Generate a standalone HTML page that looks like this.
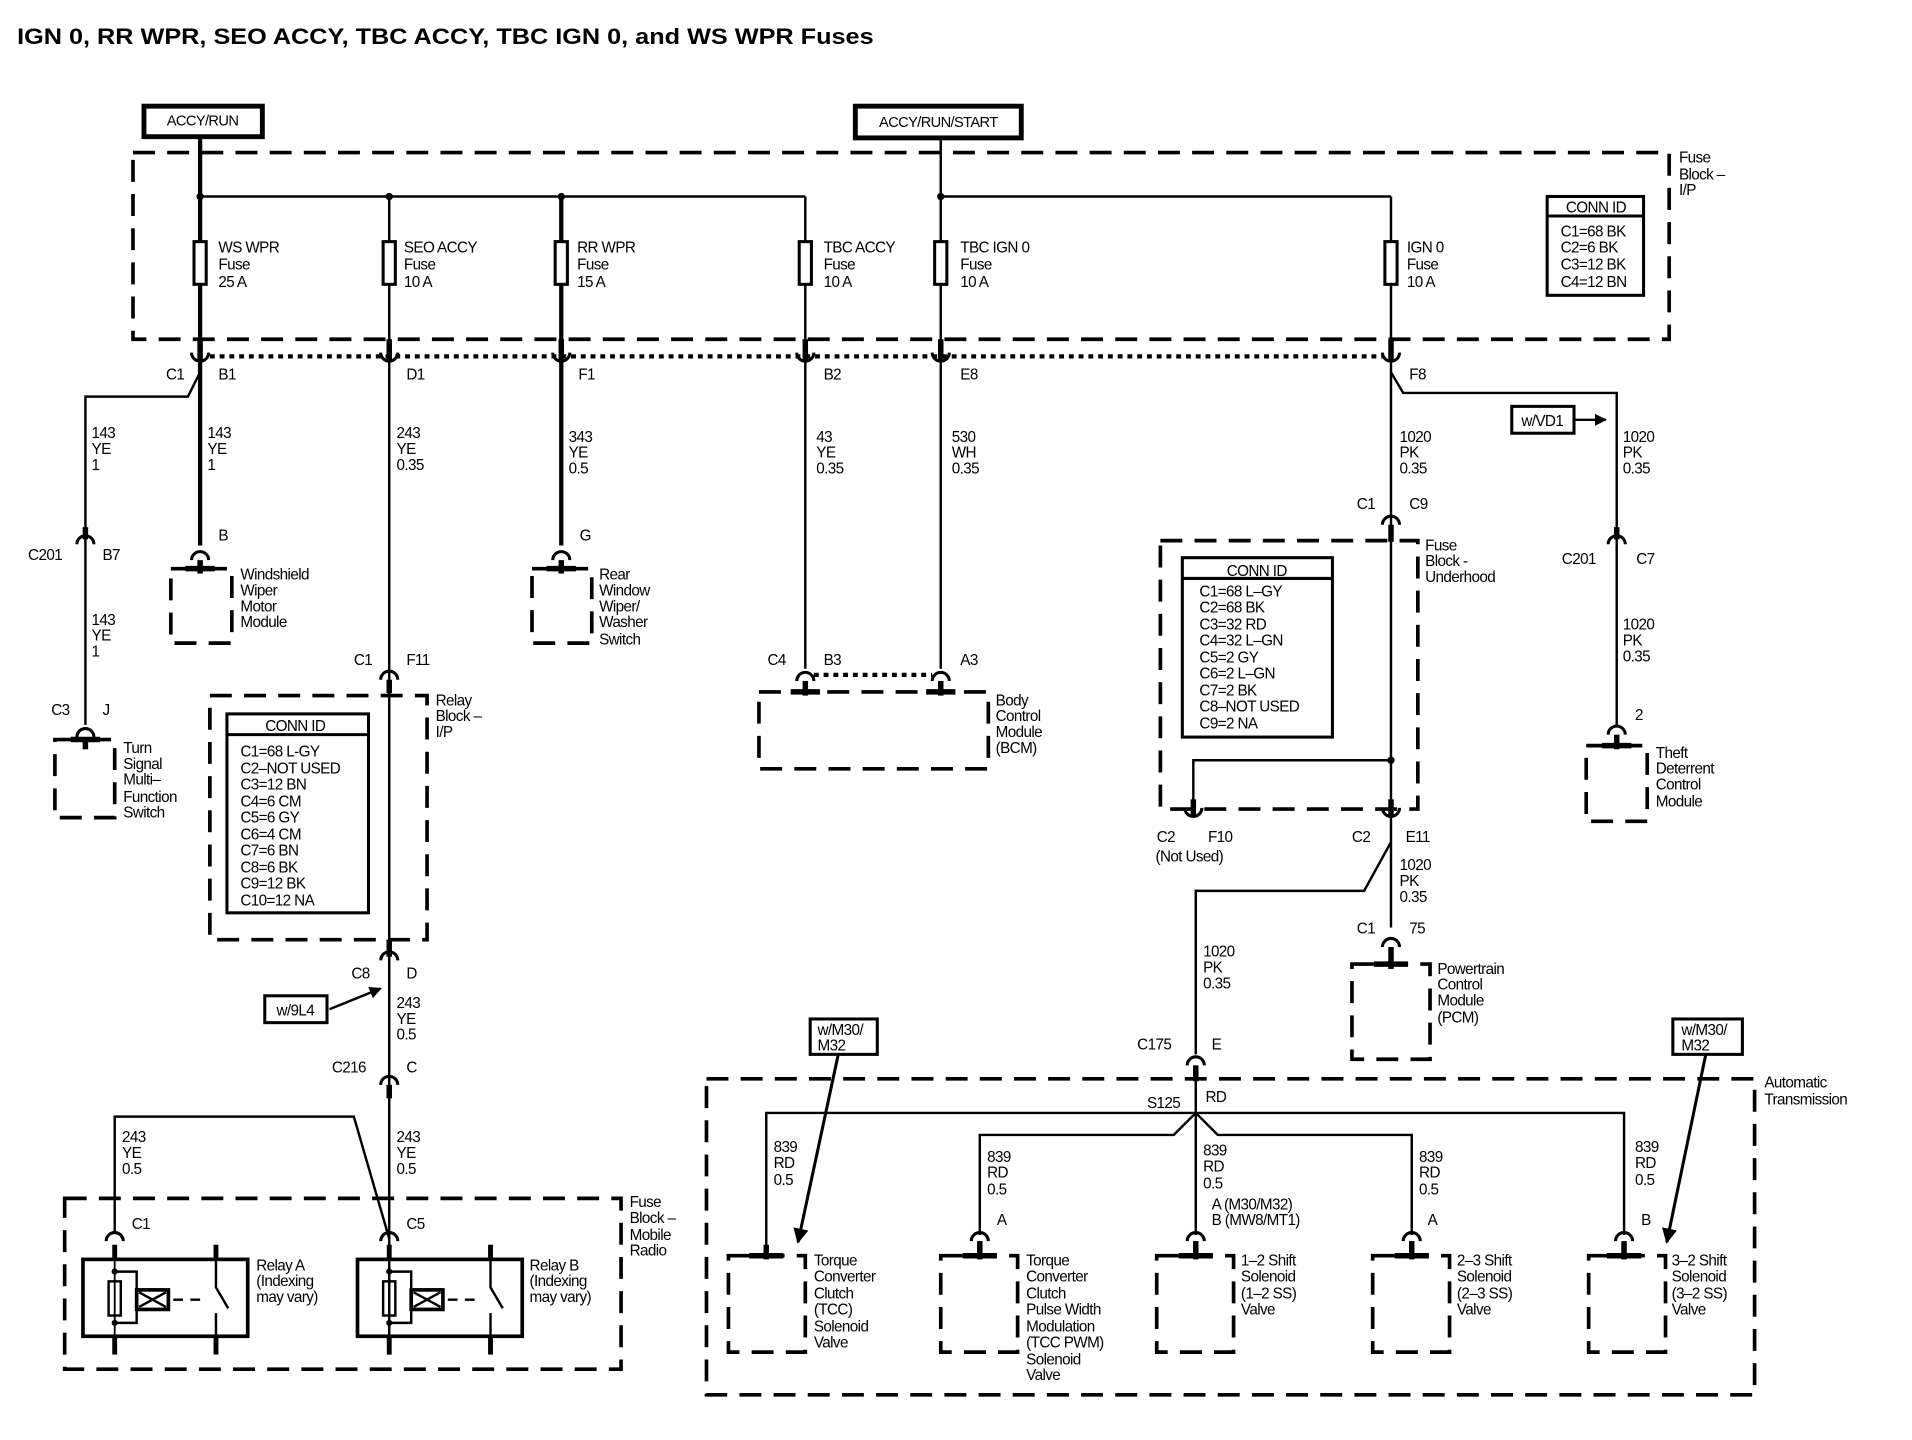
<!DOCTYPE html>
<html><head><meta charset="utf-8"><style>
html,body{margin:0;padding:0;background:#fff}
svg{display:block}
text{font-family:"Liberation Sans",sans-serif;font-size:12.5px;fill:#000;letter-spacing:-0.5px}
.b{font-weight:bold}
</style></head><body>
<svg width="1912" height="1440" viewBox="0 0 1567 1180" preserveAspectRatio="none" xmlns="http://www.w3.org/2000/svg">
<defs>
<marker id="ar" viewBox="0 0 10 10" refX="9" refY="5" markerWidth="5" markerHeight="5" orient="auto"><path d="M0 0L10 5L0 10z"/></marker>
</defs>
<rect width="1567" height="1180" fill="#fff"/>
<text x="14" y="36" class="b" style="font-size:18px;letter-spacing:0" textLength="702" lengthAdjust="spacingAndGlyphs">IGN 0, RR WPR, SEO ACCY, TBC ACCY, TBC IGN 0, and WS WPR Fuses</text>

<g fill="none" stroke="#000">
<rect x="118" y="87" width="97" height="25" stroke-width="4"/>
<rect x="701" y="87" width="136" height="26" stroke-width="4"/>
<g stroke-width="3" stroke-dasharray="18 10">
<rect x="109" y="125" width="1259" height="153"/>
<rect x="172" y="570" width="178" height="200"/>
<rect x="951" y="443" width="211" height="220"/>
<rect x="53" y="982" width="456" height="140"/>
<rect x="579" y="884" width="859" height="259"/>
<rect x="45" y="606" width="49" height="64"/>
<rect x="140" y="466" width="50" height="61"/>
<rect x="436" y="466" width="49" height="61"/>
<rect x="622" y="567" width="188" height="63"/>
<rect x="1300" y="611" width="50" height="62"/>
<rect x="1108" y="790" width="64" height="78"/>
<rect x="597" y="1029" width="63" height="79"/>
<rect x="771" y="1029" width="63" height="79"/>
<rect x="948" y="1029" width="63" height="79"/>
<rect x="1125" y="1029" width="63" height="79"/>
<rect x="1302" y="1029" width="63" height="79"/>
</g>
<g stroke-width="3.5" stroke-dasharray="4 4">
<line x1="172" y1="292" x2="1133" y2="292"/>
<line x1="667" y1="553" x2="764" y2="553"/>
</g>
<rect x="1268" y="161" width="79" height="81" stroke-width="2.5"/>
<line x1="1268" y1="177" x2="1347" y2="177" stroke-width="2.5"/>
<rect x="186" y="585" width="116" height="163" stroke-width="2.5"/>
<line x1="186" y1="602" x2="302" y2="602" stroke-width="2.5"/>
<rect x="969" y="457" width="123" height="147" stroke-width="2.5"/>
<line x1="969" y1="474" x2="1092" y2="474" stroke-width="2.5"/>

<g stroke-width="2">
<line x1="164" y1="161" x2="660" y2="161"/>
<line x1="771" y1="161" x2="1140" y2="161"/>
<line x1="319" y1="161" x2="319" y2="1110"/>
<line x1="660" y1="161" x2="660" y2="548"/>
<line x1="771" y1="113" x2="771" y2="548"/>
<line x1="1140" y1="161" x2="1140" y2="760"/>
<polyline points="164,305 154,325 70,325 70,440"/>
<line x1="70" y1="440" x2="70" y2="594"/>
<polyline points="1140,305 1150,322 1325,322 1325,594"/>
<polyline points="1140,623 978,623 978,665"/>
<polyline points="1140,690 1118,730 980,730 980,864"/>
<polyline points="94,1010 94,915 290,915 319,1015"/>
<line x1="980" y1="885" x2="980" y2="1012"/>
<polyline points="628,1026 628,912 1331,912 1331,1012"/>
<polyline points="803,1012 803,930 962,930 980,912 998,930 1157,930 1157,1012"/>
<line x1="270" y1="827" x2="312" y2="810" marker-end="url(#ar)" stroke-width="2"/>
<line x1="1290" y1="344" x2="1316" y2="344" marker-end="url(#ar)" stroke-width="2"/>
<line x1="687" y1="864" x2="654" y2="1018" marker-end="url(#ar)" stroke-width="2.5"/>
<line x1="1398" y1="864" x2="1366" y2="1018" marker-end="url(#ar)" stroke-width="2.5"/>
</g>
<g stroke-width="3.5">
<line x1="164" y1="112" x2="164" y2="447"/>
<line x1="460" y1="161" x2="460" y2="447"/>
</g>
<g stroke-width="2.5" fill="#fff">
<rect x="159" y="198" width="10" height="35"/>
<rect x="314" y="198" width="10" height="35"/>
<rect x="455" y="198" width="10" height="35"/>
<rect x="655" y="198" width="10" height="35"/>
<rect x="766" y="198" width="10" height="35"/>
<rect x="1135" y="198" width="10" height="35"/>
</g>
<g fill="#000" stroke="none">
<circle cx="164" cy="161" r="3"/><circle cx="319" cy="161" r="3"/><circle cx="460" cy="161" r="3"/><circle cx="771" cy="161" r="3"/><circle cx="1140" cy="623" r="3"/>
</g>
<g stroke-width="2.5">
<path d="M157 289 A7 7 0 0 0 171 289"/><path d="M312 289 A7 7 0 0 0 326 289"/><path d="M453 289 A7 7 0 0 0 467 289"/>
<path d="M653 289 A7 7 0 0 0 667 289"/><path d="M764 289 A7 7 0 0 0 778 289"/><path d="M1133 289 A7 7 0 0 0 1147 289"/>
<path d="M971 662 A7 7 0 0 0 985 662"/><path d="M1133 662 A7 7 0 0 0 1147 662"/>
<path d="M63 446 A7 7 0 0 1 77 446"/><path d="M63 604 A7 7 0 0 1 77 604"/>
<path d="M157 459 A7 7 0 0 1 171 459"/><path d="M453 459 A7 7 0 0 1 467 459"/>
<path d="M312 557 A7 7 0 0 1 326 557"/><path d="M653 558 A7 7 0 0 1 667 558"/><path d="M764 558 A7 7 0 0 1 778 558"/>
<path d="M312 787 A7 7 0 0 1 326 787"/><path d="M312 889 A7 7 0 0 1 326 889"/>
<path d="M87 1017 A7 7 0 0 1 101 1017"/><path d="M312 1017 A7 7 0 0 1 326 1017"/>
<path d="M1133 430 A7 7 0 0 1 1147 430"/><path d="M1318 446 A7 7 0 0 1 1332 446"/><path d="M1318 602 A7 7 0 0 1 1332 602"/>
<path d="M1133 776 A7 7 0 0 1 1147 776"/><path d="M973 873 A7 7 0 0 1 987 873"/>
<path d="M796 1017 A7 7 0 0 1 810 1017"/><path d="M973 1017 A7 7 0 0 1 987 1017"/><path d="M1150 1017 A7 7 0 0 1 1164 1017"/><path d="M1324 1017 A7 7 0 0 1 1338 1017"/>
</g>
<g stroke-width="4.5">
<line x1="164" y1="278" x2="164" y2="296"/><line x1="319" y1="278" x2="319" y2="296"/><line x1="460" y1="278" x2="460" y2="296"/>
<line x1="660" y1="278" x2="660" y2="296"/><line x1="771" y1="278" x2="771" y2="296"/><line x1="1140" y1="278" x2="1140" y2="296"/>
<line x1="978" y1="655" x2="978" y2="668"/><line x1="1140" y1="655" x2="1140" y2="668"/>
<line x1="70" y1="432" x2="70" y2="442"/>
<line x1="319" y1="557" x2="319" y2="568"/><line x1="319" y1="770" x2="319" y2="784"/><line x1="319" y1="889" x2="319" y2="900"/>
<line x1="1140" y1="430" x2="1140" y2="444"/><line x1="1325" y1="432" x2="1325" y2="442"/>
<line x1="980" y1="873" x2="980" y2="886"/>
<line x1="70" y1="604" x2="70" y2="614"/><line x1="58" y1="606" x2="82" y2="606"/>
<line x1="164" y1="459" x2="164" y2="470"/><line x1="152" y1="466" x2="176" y2="466"/>
<line x1="460" y1="459" x2="460" y2="470"/><line x1="448" y1="466" x2="472" y2="466"/>
<line x1="660" y1="558" x2="660" y2="570"/><line x1="648" y1="567" x2="672" y2="567"/>
<line x1="771" y1="558" x2="771" y2="570"/><line x1="759" y1="567" x2="783" y2="567"/>
<line x1="1325" y1="602" x2="1325" y2="614"/><line x1="1313" y1="611" x2="1337" y2="611"/>
<line x1="1140" y1="776" x2="1140" y2="794"/><line x1="1126" y1="790" x2="1154" y2="790"/>
<line x1="628" y1="1020" x2="628" y2="1032"/><line x1="614" y1="1029" x2="642" y2="1029"/>
<line x1="803" y1="1017" x2="803" y2="1032"/><line x1="789" y1="1029" x2="817" y2="1029"/>
<line x1="980" y1="1017" x2="980" y2="1032"/><line x1="966" y1="1029" x2="994" y2="1029"/>
<line x1="1157" y1="1017" x2="1157" y2="1032"/><line x1="1143" y1="1029" x2="1171" y2="1029"/>
<line x1="1331" y1="1017" x2="1331" y2="1032"/><line x1="1317" y1="1029" x2="1345" y2="1029"/>
</g>
<rect x="217" y="816" width="51" height="22" stroke-width="2.5"/>
<rect x="1239" y="333" width="51" height="22" stroke-width="2.5"/>
<rect x="664" y="835" width="55" height="29" stroke-width="2.5"/>
<rect x="1371" y="835" width="57" height="29" stroke-width="2.5"/>
<g id="relay">
<rect x="68" y="1032" width="135" height="63" stroke-width="3"/>
<line x1="94" y1="1020" x2="94" y2="1032" stroke-width="4"/><line x1="94" y1="1095" x2="94" y2="1110" stroke-width="4"/>
<line x1="94" y1="1032" x2="94" y2="1095" stroke-width="1.5"/>
<rect x="89" y="1050" width="10" height="28" stroke-width="2"/>
<polyline points="94,1042 112,1042 112,1084 94,1084" stroke-width="2"/>
<rect x="112" y="1057" width="26" height="16" stroke-width="3" fill="#fff"/>
<path d="M114 1059L136 1071M136 1059L114 1071" stroke-width="2"/>
<line x1="142" y1="1065" x2="168" y2="1065" stroke-width="2" stroke-dasharray="8 6"/>
<line x1="177" y1="1020" x2="177" y2="1032" stroke-width="4"/><line x1="177" y1="1095" x2="177" y2="1110" stroke-width="4"/>
<polyline points="177,1032 177,1055 187,1072" stroke-width="2"/>
<line x1="177" y1="1076" x2="177" y2="1095" stroke-width="2"/>
</g>
<use href="#relay" transform="translate(225,0)"/>
</g>
<g fill="#000" stroke="none"><circle cx="94" cy="1042" r="2.5"/><circle cx="94" cy="1084" r="2.5"/><circle cx="319" cy="1042" r="2.5"/><circle cx="319" cy="1084" r="2.5"/></g>

<text x="166" y="103" text-anchor="middle" style="font-size:12px">ACCY/RUN</text>
<text x="769" y="104" text-anchor="middle" style="font-size:12px">ACCY/RUN/START</text>
<text x="1376" y="133">Fuse</text><text x="1376" y="147">Block –</text><text x="1376" y="160">I/P</text>
<text x="1308" y="174" text-anchor="middle">CONN ID</text>
<text x="1279" y="194">C1=68 BK</text><text x="1279" y="207">C2=6 BK</text><text x="1279" y="221">C3=12 BK</text><text x="1279" y="235">C4=12 BN</text>
<g>
<text x="179" y="207">WS WPR</text><text x="179" y="221">Fuse</text><text x="179" y="235">25 A</text>
<text x="331" y="207">SEO ACCY</text><text x="331" y="221">Fuse</text><text x="331" y="235">10 A</text>
<text x="473" y="207">RR WPR</text><text x="473" y="221">Fuse</text><text x="473" y="235">15 A</text>
<text x="675" y="207">TBC ACCY</text><text x="675" y="221">Fuse</text><text x="675" y="235">10 A</text>
<text x="787" y="207">TBC IGN 0</text><text x="787" y="221">Fuse</text><text x="787" y="235">10 A</text>
<text x="1153" y="207">IGN 0</text><text x="1153" y="221">Fuse</text><text x="1153" y="235">10 A</text>
</g>
<text x="136" y="311">C1</text><text x="179" y="311">B1</text><text x="333" y="311">D1</text><text x="474" y="311">F1</text>
<text x="675" y="311">B2</text><text x="787" y="311">E8</text><text x="1155" y="311">F8</text>
<text x="75" y="359">143</text><text x="75" y="372">YE</text><text x="75" y="385">1</text>
<text x="170" y="359">143</text><text x="170" y="372">YE</text><text x="170" y="385">1</text>
<text x="325" y="359">243</text><text x="325" y="372">YE</text><text x="325" y="385">0.35</text>
<text x="466" y="362">343</text><text x="466" y="375">YE</text><text x="466" y="388">0.5</text>
<text x="669" y="362">43</text><text x="669" y="375">YE</text><text x="669" y="388">0.35</text>
<text x="780" y="362">530</text><text x="780" y="375">WH</text><text x="780" y="388">0.35</text>
<text x="1147" y="362">1020</text><text x="1147" y="375">PK</text><text x="1147" y="388">0.35</text>
<text x="1330" y="362">1020</text><text x="1330" y="375">PK</text><text x="1330" y="388">0.35</text>
<text x="1264" y="349" text-anchor="middle">w/VD1</text>
<text x="1112" y="417">C1</text><text x="1155" y="417">C9</text>
<text x="23" y="459">C201</text><text x="84" y="459">B7</text>
<text x="1280" y="462">C201</text><text x="1341" y="462">C7</text>
<text x="179" y="443">B</text><text x="475" y="443">G</text>
<text x="197" y="475">Windshield</text><text x="197" y="488">Wiper</text><text x="197" y="501">Motor</text><text x="197" y="514">Module</text>
<text x="491" y="475">Rear</text><text x="491" y="488">Window</text><text x="491" y="501">Wiper/</text><text x="491" y="514">Washer</text><text x="491" y="528">Switch</text>
<text x="75" y="512">143</text><text x="75" y="525">YE</text><text x="75" y="538">1</text>
<text x="42" y="586">C3</text><text x="84" y="586">J</text>
<text x="101" y="617">Turn</text><text x="101" y="630">Signal</text><text x="101" y="643">Multi–</text><text x="101" y="657">Function</text><text x="101" y="670">Switch</text>
<text x="290" y="545">C1</text><text x="333" y="545">F11</text>
<text x="357" y="578">Relay</text><text x="357" y="591">Block –</text><text x="357" y="604">I/P</text>
<text x="242" y="599" text-anchor="middle">CONN ID</text>
<text x="197" y="620">C1=68 L-GY</text><text x="197" y="634">C2–NOT USED</text><text x="197" y="647">C3=12 BN</text><text x="197" y="661">C4=6 CM</text><text x="197" y="674">C5=6 GY</text><text x="197" y="688">C6=4 CM</text><text x="197" y="701">C7=6 BN</text><text x="197" y="715">C8=6 BK</text><text x="197" y="728">C9=12 BK</text><text x="197" y="742">C10=12 NA</text>
<text x="629" y="545">C4</text><text x="675" y="545">B3</text><text x="787" y="545">A3</text>
<text x="816" y="578">Body</text><text x="816" y="591">Control</text><text x="816" y="604">Module</text><text x="816" y="617">(BCM)</text>
<text x="1168" y="451">Fuse</text><text x="1168" y="464">Block -</text><text x="1168" y="477">Underhood</text>
<text x="1030" y="472" text-anchor="middle">CONN ID</text>
<text x="983" y="489">C1=68 L–GY</text><text x="983" y="502">C2=68 BK</text><text x="983" y="516">C3=32 RD</text><text x="983" y="529">C4=32 L–GN</text><text x="983" y="543">C5=2 GY</text><text x="983" y="556">C6=2 L–GN</text><text x="983" y="570">C7=2 BK</text><text x="983" y="583">C8–NOT USED</text><text x="983" y="597">C9=2 NA</text>
<text x="1330" y="516">1020</text><text x="1330" y="529">PK</text><text x="1330" y="542">0.35</text>
<text x="1340" y="590">2</text>
<text x="1357" y="621">Theft</text><text x="1357" y="634">Deterrent</text><text x="1357" y="647">Control</text><text x="1357" y="661">Module</text>
<text x="948" y="690">C2</text><text x="990" y="690">F10</text><text x="947" y="706">(Not Used)</text>
<text x="1108" y="690">C2</text><text x="1152" y="690">E11</text>
<text x="1147" y="713">1020</text><text x="1147" y="726">PK</text><text x="1147" y="739">0.35</text>
<text x="1112" y="765">C1</text><text x="1155" y="765">75</text>
<text x="1178" y="798">Powertrain</text><text x="1178" y="811">Control</text><text x="1178" y="824">Module</text><text x="1178" y="838">(PCM)</text>
<text x="986" y="784">1020</text><text x="986" y="797">PK</text><text x="986" y="810">0.35</text>
<text x="932" y="860">C175</text><text x="993" y="860">E</text>
<text x="288" y="802">C8</text><text x="333" y="802">D</text>
<text x="242" y="832" text-anchor="middle">w/9L4</text>
<text x="325" y="826">243</text><text x="325" y="839">YE</text><text x="325" y="852">0.5</text>
<text x="272" y="879">C216</text><text x="333" y="879">C</text>
<text x="100" y="936">243</text><text x="100" y="949">YE</text><text x="100" y="962">0.5</text>
<text x="325" y="936">243</text><text x="325" y="949">YE</text><text x="325" y="962">0.5</text>
<text x="516" y="989">Fuse</text><text x="516" y="1002">Block –</text><text x="516" y="1016">Mobile</text><text x="516" y="1029">Radio</text>
<text x="108" y="1007">C1</text><text x="333" y="1007">C5</text>
<text x="210" y="1041">Relay A</text><text x="210" y="1054">(Indexing</text><text x="210" y="1067">may vary)</text>
<text x="434" y="1041">Relay B</text><text x="434" y="1054">(Indexing</text><text x="434" y="1067">may vary)</text>
<text x="670" y="848">w/M30/</text><text x="670" y="861">M32</text>
<text x="1378" y="848">w/M30/</text><text x="1378" y="861">M32</text>
<text x="1446" y="891">Automatic</text><text x="1446" y="905">Transmission</text>
<text x="940" y="908">S125</text><text x="988" y="903">RD</text>
<text x="634" y="944">839</text><text x="634" y="957">RD</text><text x="634" y="971">0.5</text>
<text x="809" y="952">839</text><text x="809" y="965">RD</text><text x="809" y="979">0.5</text>
<text x="986" y="947">839</text><text x="986" y="960">RD</text><text x="986" y="974">0.5</text>
<text x="1163" y="952">839</text><text x="1163" y="965">RD</text><text x="1163" y="979">0.5</text>
<text x="1340" y="944">839</text><text x="1340" y="957">RD</text><text x="1340" y="971">0.5</text>
<text x="817" y="1004">A</text><text x="993" y="991">A (M30/M32)</text><text x="993" y="1004">B (MW8/MT1)</text><text x="1170" y="1004">A</text><text x="1345" y="1004">B</text>
<text x="667" y="1037">Torque</text><text x="667" y="1050">Converter</text><text x="667" y="1064">Clutch</text><text x="667" y="1077">(TCC)</text><text x="667" y="1091">Solenoid</text><text x="667" y="1104">Valve</text>
<text x="841" y="1037">Torque</text><text x="841" y="1050">Converter</text><text x="841" y="1064">Clutch</text><text x="841" y="1077">Pulse Width</text><text x="841" y="1091">Modulation</text><text x="841" y="1104">(TCC PWM)</text><text x="841" y="1118">Solenoid</text><text x="841" y="1131">Valve</text>
<text x="1017" y="1037">1–2 Shift</text><text x="1017" y="1050">Solenoid</text><text x="1017" y="1064">(1–2 SS)</text><text x="1017" y="1077">Valve</text>
<text x="1194" y="1037">2–3 Shift</text><text x="1194" y="1050">Solenoid</text><text x="1194" y="1064">(2–3 SS)</text><text x="1194" y="1077">Valve</text>
<text x="1370" y="1037">3–2 Shift</text><text x="1370" y="1050">Solenoid</text><text x="1370" y="1064">(3–2 SS)</text><text x="1370" y="1077">Valve</text>
</svg>
</body></html>
